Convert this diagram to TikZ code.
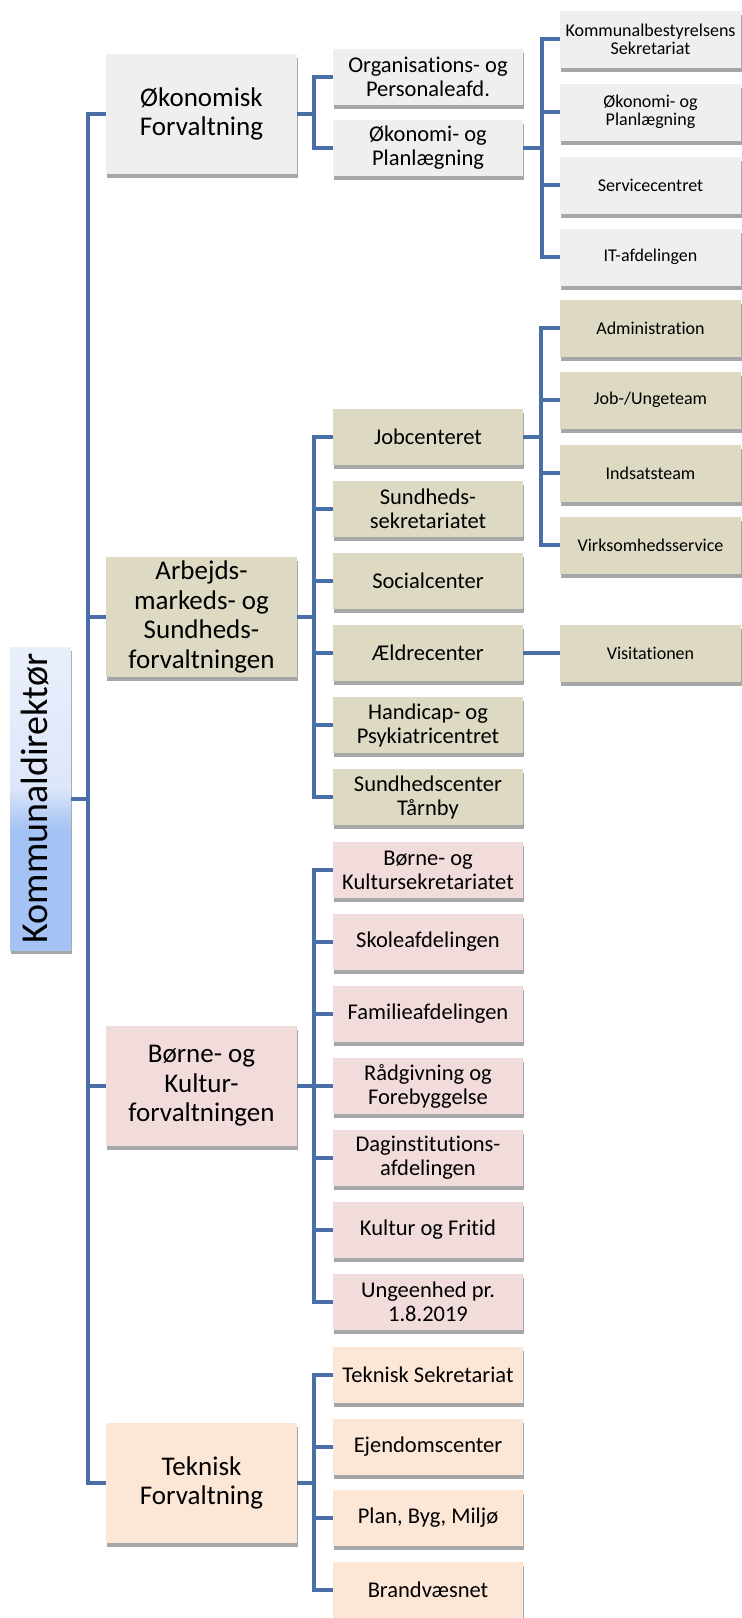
\documentclass[tikz,border=0pt]{standalone}
\usepackage{graphicx}
\usepackage{fontspec}
\setmainfont{Carlito}[Ligatures={NoCommon,NoContextual},RawFeature={-liga;-clig;-calt}]
\usetikzlibrary{shadows}
\definecolor{linkblue}{HTML}{4A6EA8}
\definecolor{grayfill}{HTML}{EFEFEF}
\definecolor{tanfill}{HTML}{DDD9C3}
\definecolor{pinkfill}{HTML}{F2DCDB}
\definecolor{peachfill}{HTML}{FCE6D6}
\definecolor{rootblue}{HTML}{A4C2F4}
\definecolor{rootpale}{HTML}{DDE6F9}
\definecolor{rootpaletop}{HTML}{EAEFFC}
\pgfdeclareverticalshading{rootshade}{100bp}{color(0bp)=(rootblue); color(44.8bp)=(rootblue); color(51.9bp)=(rootpale); color(75bp)=(rootpaletop); color(100bp)=(rootpaletop)}
\tikzset{
  box/.style={draw=none, inner sep=2pt, align=center, text=black,
    drop shadow={shadow xshift=1pt, shadow yshift=-4pt, fill=black, opacity=0.35}},
  rootbox/.style={box, shading=rootshade, minimum width=61pt, minimum height=303pt, inner sep=0pt,
    font=\fontsize{38}{40}\selectfont},
  lone/.style={box, minimum width=191pt, minimum height=120pt, font=\fontsize{27}{29.5}\selectfont},
  ltwo/.style={box, minimum width=190pt, minimum height=56pt, font=\fontsize{22.5}{24}\selectfont},
  lthree/.style={box, minimum width=181pt, minimum height=57pt, font=\fontsize{18}{18}\selectfont},
  conn/.style={draw=linkblue, line width=4pt}
}
\begin{document}
\begin{tikzpicture}[x=1pt,y=-1pt]
\useasboundingbox (0,0) rectangle (742,1618);
% root
\node[rootbox] (root) at (40.5,798.5) {\rotatebox{90}{Kommunaldirektør}\hspace*{12pt}};
% level 1
\node[lone,fill=grayfill] (oek) at (201.5,114) {Økonomisk\\Forvaltning};
\node[lone,fill=tanfill] (arb) at (201.5,617) {Arbejds-\\markeds- og\\Sundheds-\\forvaltningen};
\node[lone,fill=pinkfill] (boe) at (201.5,1086) {Børne- og\\Kultur-\\forvaltningen};
\node[lone,fill=peachfill] (tek) at (201.5,1483) {Teknisk\\Forvaltning};
% level 2
\node[ltwo,fill=grayfill] (org) at (428,77) {Organisations- og\\Personaleafd.};
\node[ltwo,fill=grayfill] (oekpl) at (428,148) {Økonomi- og\\Planlægning};
\node[ltwo,fill=tanfill] (job) at (428,437) {Jobcenteret};
\node[ltwo,fill=tanfill] (sun) at (428,509) {Sundheds-\\sekretariatet};
\node[ltwo,fill=tanfill] (soc) at (428,581) {Socialcenter};
\node[ltwo,fill=tanfill] (aeld) at (428,653) {Ældrecenter};
\node[ltwo,fill=tanfill] (hand) at (428,725) {Handicap- og\\Psykiatricentret};
\node[ltwo,fill=tanfill] (sct) at (428,797) {Sundhedscenter\\Tårnby};
\node[ltwo,fill=pinkfill] (bks) at (428,870) {Børne- og\\Kultursekretariatet};
\node[ltwo,fill=pinkfill] (sko) at (428,942) {Skoleafdelingen};
\node[ltwo,fill=pinkfill] (fam) at (428,1014) {Familieafdelingen};
\node[ltwo,fill=pinkfill] (raad) at (428,1086) {Rådgivning og\\Forebyggelse};
\node[ltwo,fill=pinkfill] (dag) at (428,1158) {Daginstitutions-\\afdelingen};
\node[ltwo,fill=pinkfill] (kul) at (428,1230) {Kultur og Fritid};
\node[ltwo,fill=pinkfill] (ung) at (428,1302) {Ungeenhed pr.\\1.8.2019};
\node[ltwo,fill=peachfill] (tsek) at (428,1375) {Teknisk Sekretariat};
\node[ltwo,fill=peachfill] (ejd) at (428,1447) {Ejendomscenter};
\node[ltwo,fill=peachfill] (plan) at (428,1518) {Plan, Byg, Miljø};
\node[ltwo,fill=peachfill] (brand) at (428,1590) {Brandvæsnet};
% level 3
\node[lthree,fill=grayfill] (ks) at (650.5,39) {Kommunalbestyrelsens\\Sekretariat};
\node[lthree,fill=grayfill] (oep3) at (650.5,112) {Økonomi- og\\Planlægning};
\node[lthree,fill=grayfill] (serv) at (650.5,185) {Servicecentret};
\node[lthree,fill=grayfill] (it) at (650.5,257) {IT-afdelingen};
\node[lthree,fill=tanfill] (adm) at (650.5,328) {Administration};
\node[lthree,fill=tanfill] (jut) at (650.5,400) {Job-/Ungeteam};
\node[lthree,fill=tanfill] (ind) at (650.5,473) {Indsatsteam};
\node[lthree,fill=tanfill] (virk) at (650.5,545) {Virksomhedsservice};
\node[lthree,fill=tanfill] (vis) at (650.5,653) {Visitationen};
% connectors
\foreach \c in {oek,arb,boe,tek} \draw[conn] (root.east) -- ++(17,0) |- (\c.west);
\foreach \c in {org,oekpl} \draw[conn] (oek.east) -- ++(16.5,0) |- (\c.west);
\foreach \c in {job,sun,soc,aeld,hand,sct} \draw[conn] (arb.east) -- ++(16.5,0) |- (\c.west);
\foreach \c in {bks,sko,fam,raad,dag,kul,ung} \draw[conn] (boe.east) -- ++(16.5,0) |- (\c.west);
\foreach \c in {tsek,ejd,plan,brand} \draw[conn] (tek.east) -- ++(16.5,0) |- (\c.west);
\foreach \c in {ks,oep3,serv,it} \draw[conn] (oekpl.east) -- ++(19,0) |- (\c.west);
\foreach \c in {adm,jut,ind,virk} \draw[conn] (job.east) -- ++(18,0) |- (\c.west);
\draw[conn] (aeld.east) -- (vis.west);
\end{tikzpicture}
\end{document}
